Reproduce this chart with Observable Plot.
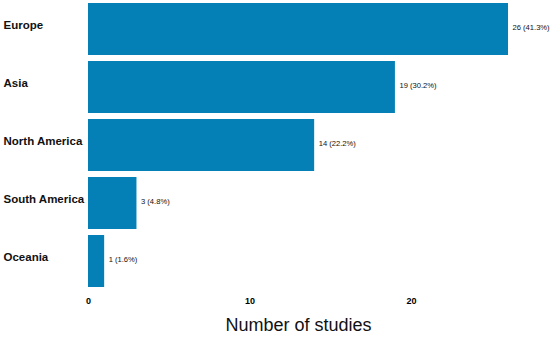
<!DOCTYPE html>
<html>
<head>
<meta charset="utf-8">
<script src="https://cdn.jsdelivr.net/npm/d3@7"></script>
<script src="https://cdn.jsdelivr.net/npm/@observablehq/plot@0.6"></script>
<style>
  html, body { margin: 0; padding: 0; background: #fff; }
  #chart svg { display: block; }
</style>
</head>
<body>
<div id="chart"></div>
<script>
const regions = ["Europe", "Asia", "North America", "South America", "Oceania"];
const counts = [26, 19, 14, 3, 1];
const percents = ["41.3%", "30.2%", "22.2%", "4.8%", "1.6%"];
const xTicks = [0, 10, 20];
const xLabel = "Number of studies";

const data = regions.map((r, i) => ({region: r, count: counts[i], label: `${counts[i]} (${percents[i]})`}));

const FONT = "'Liberation Sans', Arial, sans-serif";

const chart = Plot.plot({
  width: 550,
  height: 339,
  marginLeft: 88,
  marginRight: 42,
  marginTop: 0,
  marginBottom: 49,
  style: {fontFamily: FONT, background: "#fff"},
  x: {domain: [0, 26], ticks: xTicks},
  y: {domain: regions, paddingInner: 0.1, paddingOuter: 0.05},
  marks: [
    Plot.barX(data, {y: "region", x: "count", fill: "#0580b6"}),
    Plot.text(data, {y: "region", x: "count", text: "label", textAnchor: "start", dx: 4, dy: -2,
      fontSize: 7.6, fontFamily: FONT, fill: "#111"}),
    Plot.text(data, {y: "region", text: "region", frameAnchor: "left", textAnchor: "start", dx: -85, dy: -4,
      fontSize: 11.5, fontWeight: "bold", fontFamily: FONT, fill: "#111"}),
    Plot.axisX({ticks: xTicks, tickSize: 0, tickPadding: 7, fontSize: 9, fontWeight: "bold", label: null, tickFormat: d => String(d)}),
    Plot.axisY({ticks: [], label: null, tickSize: 0}),
    Plot.text([xLabel], {frameAnchor: "bottom", dy: 40, fontSize: 18, fontFamily: FONT, fill: "#111"})
  ]
});
document.getElementById("chart").appendChild(chart);
</script>
</body>
</html>
